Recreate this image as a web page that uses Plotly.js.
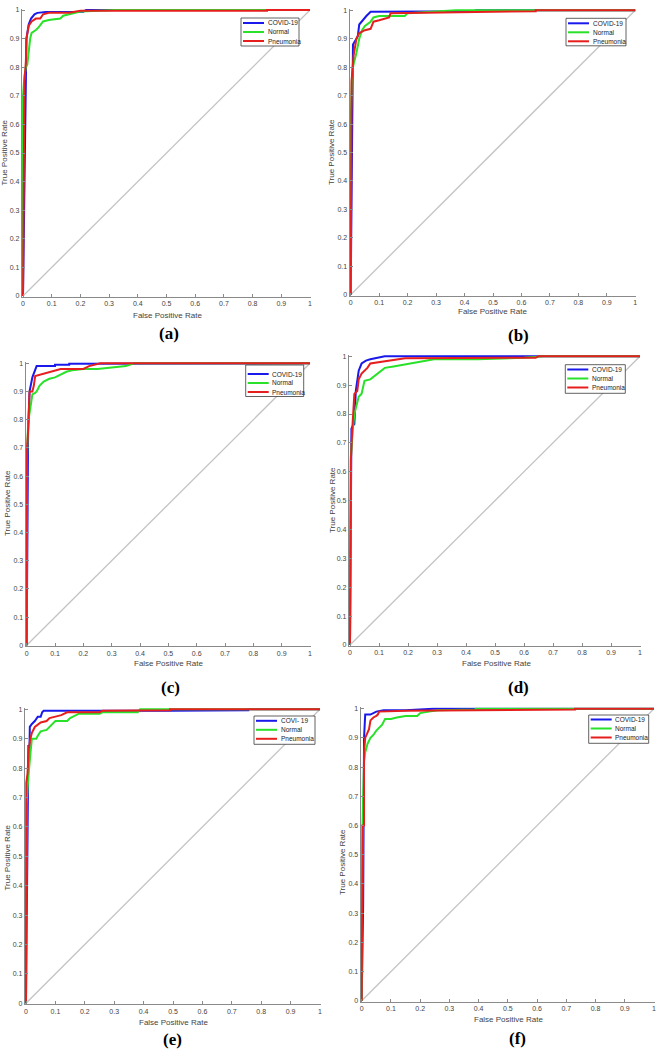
<!DOCTYPE html>
<html>
<head>
<meta charset="utf-8">
<script src="https://cdn.plot.ly/plotly-3.0.1.min.js"></script>
<style>
  html, body { margin: 0; padding: 0; background: #fff; }
  #chart { width: 659px; height: 1051px; }
</style>
</head>
<body>
<div id="chart"></div>
<script>
// ROC curves (false positive rate / true positive rate)
const classNames = ['COVID-19', 'Normal', 'Pneumonia'];
const panelLetters = ['(a)', '(b)', '(c)', '(d)', '(e)', '(f)'];
const covidLegendLabels = ['COVID-19', 'COVID-19', 'COVID-19', 'COVID-19', 'COVI- 19', 'COVID-19'];

// (a)
const aCovidFpr = [0, 0.004, 0.006, 0.008, 0.012, 0.02, 0.028, 0.04, 0.05, 0.08, 0.21, 0.22, 1];
const aCovidTpr = [0, 0.3, 0.63, 0.77, 0.9, 0.95, 0.97, 0.985, 0.99, 0.993, 0.994, 1, 1];
const aNormalFpr = [0, 0, 0.005, 0.01, 0.015, 0.02, 0.025, 0.03, 0.045, 0.055, 0.07, 0.09, 0.12, 0.13, 0.14, 0.16, 0.18, 0.2, 0.32, 1];
const aNormalTpr = [0, 0.7, 0.77, 0.8, 0.81, 0.86, 0.9, 0.92, 0.93, 0.94, 0.96, 0.965, 0.967, 0.97, 0.98, 0.985, 0.99, 0.995, 1, 1];
const aPneuFpr = [0, 0.002, 0.005, 0.01, 0.012, 0.02, 0.03, 0.045, 0.06, 0.07, 0.09, 0.16, 0.2, 0.85, 0.85, 1];
const aPneuTpr = [0, 0.3, 0.75, 0.82, 0.9, 0.945, 0.96, 0.97, 0.97, 0.985, 0.99, 0.99, 0.997, 0.997, 1, 1];

// (b)
const bCovidFpr = [0, 0.005, 0.008, 0.02, 0.025, 0.03, 0.045, 0.055, 0.07, 0.14, 0.44, 0.44, 1];
const bCovidTpr = [0, 0.75, 0.88, 0.9, 0.91, 0.95, 0.97, 0.98, 0.995, 0.995, 0.997, 1, 1];
const bNormalFpr = [0, 0.001, 0.005, 0.01, 0.02, 0.025, 0.03, 0.04, 0.05, 0.07, 0.08, 0.1, 0.19, 0.2, 0.28, 0.37, 1];
const bNormalTpr = [0, 0.64, 0.78, 0.81, 0.85, 0.88, 0.9, 0.93, 0.945, 0.96, 0.975, 0.98, 0.98, 0.99, 0.995, 1, 1];
const bPneuFpr = [0, 0.003, 0.01, 0.02, 0.03, 0.05, 0.07, 0.075, 0.08, 0.1, 0.12, 0.135, 0.14, 0.44, 0.65, 0.65, 1];
const bPneuTpr = [0, 0.75, 0.84, 0.9, 0.92, 0.93, 0.935, 0.95, 0.96, 0.965, 0.97, 0.975, 0.99, 0.993, 0.997, 1, 1];

// (c)
const cCovidFpr = [0, 0.003, 0.005, 0.01, 0.02, 0.035, 0.1, 0.1, 0.15, 0.15, 0.34, 0.34, 1];
const cCovidTpr = [0, 0.65, 0.76, 0.9, 0.95, 0.99, 0.99, 0.995, 0.995, 0.998, 0.998, 1, 1];
const cNormalFpr = [0, 0.001, 0.005, 0.01, 0.015, 0.02, 0.03, 0.035, 0.04, 0.045, 0.06, 0.08, 0.1, 0.12, 0.14, 0.16, 0.2, 0.25, 0.3, 0.35, 0.38, 1];
const cNormalTpr = [0, 0.66, 0.79, 0.82, 0.86, 0.89, 0.895, 0.9, 0.91, 0.92, 0.935, 0.945, 0.95, 0.96, 0.97, 0.975, 0.98, 0.98, 0.985, 0.99, 1, 1];
const cPneuFpr = [0, 0.001, 0.005, 0.01, 0.02, 0.025, 0.03, 0.05, 0.06, 0.08, 0.1, 0.12, 0.2, 0.22, 0.26, 1];
const cPneuTpr = [0, 0.7, 0.76, 0.9, 0.9, 0.92, 0.955, 0.96, 0.965, 0.97, 0.975, 0.98, 0.98, 0.99, 1, 1];

// (d)
const dCovidFpr = [0, 0.005, 0.01, 0.015, 0.02, 0.023, 0.03, 0.04, 0.055, 0.07, 0.09, 0.12, 1];
const dCovidTpr = [0, 0.75, 0.76, 0.765, 0.88, 0.9, 0.95, 0.975, 0.985, 0.99, 0.993, 1, 1];
const dNormalFpr = [0, 0.003, 0.01, 0.015, 0.02, 0.025, 0.03, 0.04, 0.045, 0.05, 0.07, 0.09, 0.11, 0.12, 0.15, 0.18, 0.21, 0.23, 0.26, 0.29, 0.44, 0.6, 0.67, 1];
const dNormalTpr = [0, 0.65, 0.75, 0.8, 0.82, 0.84, 0.86, 0.87, 0.9, 0.915, 0.92, 0.935, 0.95, 0.96, 0.965, 0.97, 0.975, 0.98, 0.985, 0.99, 0.99, 0.995, 1, 1];
const dPneuFpr = [0, 0.003, 0.008, 0.01, 0.015, 0.025, 0.03, 0.04, 0.05, 0.06, 0.07, 0.1, 0.13, 0.16, 0.19, 0.64, 0.65, 1];
const dPneuTpr = [0, 0.64, 0.75, 0.8, 0.87, 0.88, 0.92, 0.94, 0.95, 0.96, 0.975, 0.98, 0.985, 0.99, 0.993, 0.995, 1, 1];

// (e)
const eCovidFpr = [0, 0.005, 0.007, 0.008, 0.012, 0.013, 0.02, 0.03, 0.04, 0.05, 0.055, 0.06, 0.49, 0.756, 0.756, 1];
const eCovidTpr = [0, 0.75, 0.8, 0.875, 0.875, 0.94, 0.95, 0.96, 0.975, 0.975, 0.99, 0.995, 0.995, 0.997, 1, 1];
const eNormalFpr = [0, 0.002, 0.008, 0.01, 0.015, 0.02, 0.035, 0.04, 0.05, 0.07, 0.08, 0.1, 0.14, 0.15, 0.18, 0.25, 0.26, 0.38, 0.388, 1];
const eNormalTpr = [0, 0.68, 0.77, 0.8, 0.85, 0.9, 0.9, 0.91, 0.925, 0.93, 0.94, 0.96, 0.96, 0.97, 0.985, 0.985, 0.99, 0.99, 1, 1];
const ePneuFpr = [0, 0.001, 0.005, 0.01, 0.015, 0.02, 0.03, 0.05, 0.07, 0.08, 0.1, 0.12, 0.14, 0.25, 0.26, 0.49, 0.49, 1];
const ePneuTpr = [0, 0.75, 0.78, 0.87, 0.9, 0.92, 0.94, 0.955, 0.96, 0.97, 0.975, 0.98, 0.99, 0.99, 0.995, 0.997, 1, 1];

// (f)
const fCovidFpr = [0, 0.005, 0.008, 0.012, 0.03, 0.04, 0.05, 0.075, 0.15, 0.245, 1];
const fCovidTpr = [0, 0.33, 0.9, 0.98, 0.98, 0.985, 0.99, 0.995, 0.995, 1, 1];
const fNormalFpr = [0, 0.001, 0.003, 0.005, 0.008, 0.012, 0.02, 0.03, 0.04, 0.05, 0.06, 0.07, 0.08, 0.1, 0.12, 0.15, 0.19, 0.2, 0.23, 0.26, 0.39, 0.39, 1];
const fNormalTpr = [0, 0.57, 0.6, 0.7, 0.82, 0.85, 0.88, 0.9, 0.91, 0.925, 0.935, 0.945, 0.965, 0.965, 0.97, 0.975, 0.975, 0.985, 0.99, 0.995, 0.997, 1, 1];
const fPneuFpr = [0, 0.003, 0.008, 0.008, 0.012, 0.02, 0.025, 0.03, 0.04, 0.05, 0.055, 0.06, 0.15, 0.73, 0.73, 1];
const fPneuTpr = [0, 0.6, 0.6, 0.85, 0.9, 0.92, 0.93, 0.96, 0.97, 0.975, 0.98, 0.99, 0.993, 0.997, 1, 1];

const chanceLine = [0, 1];

const panels = [
  [[aCovidFpr, aCovidTpr], [aNormalFpr, aNormalTpr], [aPneuFpr, aPneuTpr]],
  [[bCovidFpr, bCovidTpr], [bNormalFpr, bNormalTpr], [bPneuFpr, bPneuTpr]],
  [[cCovidFpr, cCovidTpr], [cNormalFpr, cNormalTpr], [cPneuFpr, cPneuTpr]],
  [[dCovidFpr, dCovidTpr], [dNormalFpr, dNormalTpr], [dPneuFpr, dPneuTpr]],
  [[eCovidFpr, eCovidTpr], [eNormalFpr, eNormalTpr], [ePneuFpr, ePneuTpr]],
  [[fCovidFpr, fCovidTpr], [fNormalFpr, fNormalTpr], [fPneuFpr, fPneuTpr]]
];

// ---- layout (pixels in the 659x1051 page) ----
const W = 659, H = 1051;
const colors = ['rgb(25,25,235)', 'rgb(40,225,40)', 'rgb(230,30,30)'];
const FONT = 'Liberation Sans, Arial, sans-serif';
// pixel of value 0 and 1 on each axis: [x0, x1, yTop(1), yBottom(0)]
const boxes = [
  [23, 310, 10, 296],
  [350.7, 635.3, 10.3, 294.7],
  [26.7, 310, 363.3, 645.3],
  [350, 640, 356.3, 645],
  [26, 320, 709.3, 1003.3],
  [361.7, 654, 708.7, 1000.7]
];
// legend box: [left, top, width, height, first row offset]
const legendBoxes = [
  [241, 18, 58, 28, 5],
  [566, 18.3, 60, 27.5, 5],
  [245.7, 365, 58, 31.5, 9],
  [565.3, 364.7, 60, 28.6, 4.8],
  [254, 716, 61, 28.3, 4.8],
  [588.7, 715, 60, 28.3, 4.5]
];
// panel label centres, x-title centres, y-title centres
const letterPos = [[169, 333], [518, 335], [170, 687], [518, 687], [172, 1039], [517, 1038]];
const xTitlePos = [[167, 315], [493, 312], [168, 663], [496, 663], [173, 1022], [508, 1019]];
const yTitlePos = [[4.5, 153], [332, 152], [7, 503], [332, 500], [6.5, 858], [342, 862]];

const xRange = [-0.004, 1.002];
const yRange = [-0.003, 1.005];

const px = v => v / W;
const py = v => 1 - v / H;

const traces = [];
const layout = {
  width: W, height: H,
  margin: { l: 0, r: 0, t: 0, b: 0 },
  paper_bgcolor: '#fff', plot_bgcolor: '#fff',
  showlegend: false,
  font: { family: FONT, color: '#444' },
  shapes: [], annotations: []
};

panels.forEach((curves, i) => {
  const n = i === 0 ? '' : String(i + 1);
  const xa = 'x' + n, ya = 'y' + n;
  const [x0, x1, yT, yB] = boxes[i];
  const sx = x1 - x0, sy = yB - yT;
  const axisStyle = {
    showline: true, linecolor: '#8a8a8a', linewidth: 1,
    ticks: 'inside', ticklen: 3, tickcolor: '#8a8a8a', tickwidth: 1,
    showgrid: false, zeroline: false, mirror: false,
    tick0: 0, dtick: 0.1, tickfont: { size: 7, color: '#444', family: FONT },
    fixedrange: true
  };
  layout['xaxis' + n] = Object.assign({}, axisStyle, {
    anchor: ya, range: xRange,
    domain: [px(x0 + xRange[0] * sx), px(x0 + xRange[1] * sx)]
  });
  layout['yaxis' + n] = Object.assign({}, axisStyle, {
    anchor: xa, range: yRange,
    domain: [py(yB - yRange[0] * sy), py(yB - yRange[1] * sy)]
  });

  traces.push({
    x: chanceLine, y: chanceLine, xaxis: xa, yaxis: ya, mode: 'lines',
    line: { color: 'rgb(195,195,195)', width: 1.3 }, hoverinfo: 'skip'
  });
  curves.forEach((c, k) => {
    traces.push({
      x: c[0], y: c[1], xaxis: xa, yaxis: ya, mode: 'lines',
      name: k === 0 ? covidLegendLabels[i] : classNames[k],
      line: { color: colors[k], width: 2 }
    });
  });

  // legend box drawn by hand (MATLAB style, compact rows)
  const [lx, ly, lw, lh, off] = legendBoxes[i];
  layout.shapes.push({
    type: 'rect', xref: 'paper', yref: 'paper',
    x0: px(lx), x1: px(lx + lw), y0: py(ly + lh), y1: py(ly),
    line: { color: '#3a3a3a', width: 0.8 }, fillcolor: '#fff'
  });
  const labels = [covidLegendLabels[i], classNames[1], classNames[2]];
  labels.forEach((lab, k) => {
    const ry = ly + off + k * 9;
    layout.shapes.push({
      type: 'line', xref: 'paper', yref: 'paper',
      x0: px(lx + 2), x1: px(lx + 23), y0: py(ry), y1: py(ry),
      line: { color: colors[k], width: 2 }
    });
    layout.annotations.push({
      xref: 'paper', yref: 'paper', x: px(lx + 24.5), y: py(ry),
      xanchor: 'left', yanchor: 'middle', showarrow: false, text: lab,
      font: { size: 6.5, color: '#222', family: FONT }
    });
  });

  layout.annotations.push({
    xref: 'paper', yref: 'paper', x: px(xTitlePos[i][0]), y: py(xTitlePos[i][1]),
    xanchor: 'center', yanchor: 'middle', showarrow: false, text: 'False Positive Rate',
    font: { size: 8, color: '#444', family: FONT }
  });
  layout.annotations.push({
    xref: 'paper', yref: 'paper', x: px(yTitlePos[i][0]), y: py(yTitlePos[i][1]),
    xanchor: 'center', yanchor: 'middle', showarrow: false, text: 'True Positive Rate',
    textangle: -90, font: { size: 8, color: '#444', family: FONT }
  });
  layout.annotations.push({
    xref: 'paper', yref: 'paper', x: px(letterPos[i][0]), y: py(letterPos[i][1]),
    xanchor: 'center', yanchor: 'middle', showarrow: false, text: '<b>' + panelLetters[i] + '</b>',
    font: { size: 17, color: '#000', family: 'Liberation Serif, Times New Roman, serif' }
  });
});

Plotly.newPlot('chart', traces, layout, { displayModeBar: false, staticPlot: true });
</script>
</body>
</html>
